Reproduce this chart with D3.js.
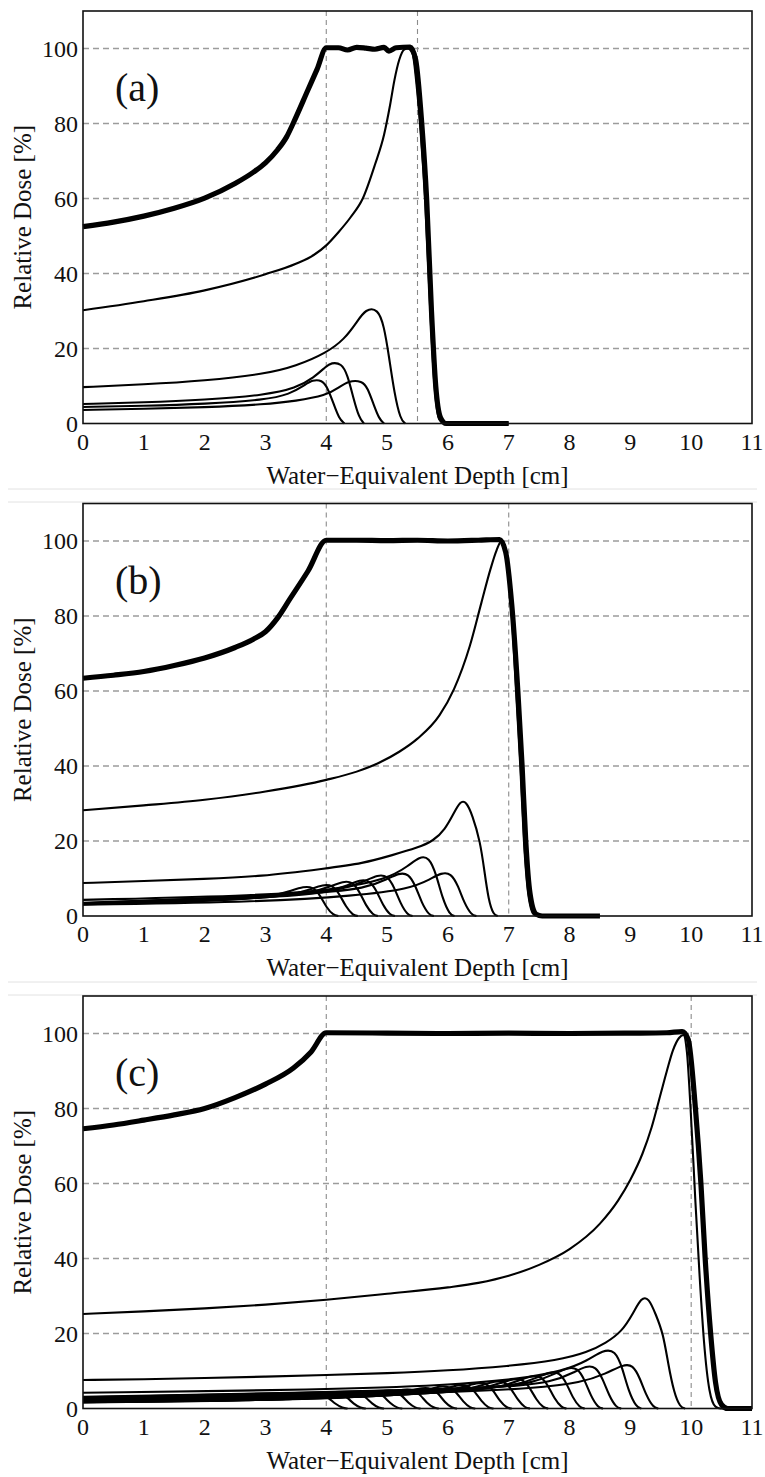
<!DOCTYPE html>
<html>
<head>
<meta charset="utf-8">
<script src="https://cdn.jsdelivr.net/npm/d3@7"></script>
<style>
  body { margin: 0; background: #fff; }
</style>
</head>
<body>
<div id="chart"></div>
<script>
var svgWidth = 765;
var svgHeight = 1477;
var serif = "'Liberation Serif', 'Times New Roman', Times, 'DejaVu Serif', serif";

var xTicks = [0, 1, 2, 3, 4, 5, 6, 7, 8, 9, 10, 11];
var yTicks = [0, 20, 40, 60, 80, 100];
var panelNames = ["(a)", "(b)", "(c)"];
var markerLines = [[4, 5.5], [4, 7], [4, 10]];

// ---- panel (a) ----
var sobpA = [[0,52.5],[0.5,53.7],[1,55.3],[1.5,57.4],[2,60.1],[2.5,64],[2.8,67],[3.0,69.5],[3.2,73],[3.35,76.5],[3.46,80.2],[3.7,89],[3.85,94.5],[4.0,100.2],[4.2,100.2],[4.35,99.6],[4.5,100.3],[4.65,100.1],[4.8,99.8],[4.95,100.3],[5.03,99.3],[5.15,100.2],[5.38,100.4],[5.47,97],[5.57,80],[5.65,60],[5.73,30],[5.8,10],[5.88,1.5],[5.97,0],[7,0]];
var pristineA = [[0,30.2],[1,32.6],[2,35.5],[3,39.8],[3.5,42.6],[3.8,45],[4,47.5],[4.2,51],[4.4,55],[4.6,60],[4.8,69],[4.95,77],[5.05,85],[5.12,91.5],[5.2,97],[5.28,99.7],[5.34,100],[5.42,98.5],[5.48,91],[5.55,78],[5.63,58],[5.71,30],[5.78,10],[5.86,1],[5.95,0],[7,0]];
var peaksA = [
  [[0,9.7],[1,10.4],[2,11.4],[3,13.2],[3.5,15.3],[4,18.8],[4.3,22.5],[4.5,27],[4.65,30.6],[4.85,30.6],[4.95,26],[5.03,18],[5.12,8],[5.22,1],[5.3,0]],
  [[0,5.2],[1,5.6],[2,6.3],[3,7.6],[3.5,9.4],[3.8,12.3],[4.0,15.3],[4.08,16.2],[4.25,16.1],[4.35,13],[4.45,6.5],[4.54,1.5],[4.62,0]],
  [[0,4.4],[1,4.7],[2,5.2],[3,6.3],[3.4,7.8],[3.65,10.3],[3.77,11.6],[3.93,11.6],[4.02,9.6],[4.12,5.3],[4.21,1.3],[4.3,0]],
  [[0,3.6],[1,3.9],[2,4.3],[3,5.1],[3.5,6],[4,7.5],[4.2,9.5],[4.36,11.4],[4.59,11.4],[4.68,9.5],[4.78,5],[4.87,1.2],[4.95,0]]
];

// ---- panel (b) ----
var sobpB = [[0,63.4],[0.5,64.2],[1,65.2],[1.5,66.8],[2,68.8],[2.5,71.6],[2.8,73.8],[3.0,75.8],[3.2,79.5],[3.4,84.5],[3.7,92],[4.0,100.2],[4.5,100.2],[5,100.1],[5.5,100.2],[6,100],[6.5,100.2],[6.85,100.4],[6.95,97],[7.05,83],[7.15,60],[7.22,40],[7.28,20],[7.35,6],[7.45,0.5],[7.55,0],[8.5,0]];
var pristineB = [[0,28.2],[1,29.5],[2,31],[3,33.2],[4,36.3],[4.5,38.5],[4.86,40.8],[5.2,43.8],[5.5,47.3],[5.86,53.5],[6.1,60.5],[6.36,72],[6.55,83.5],[6.7,92.5],[6.8,97.5],[6.88,100],[6.95,97],[7.04,83],[7.12,60],[7.19,40],[7.25,20],[7.32,6],[7.41,0.5],[7.5,0],[8.5,0]];
var peaksB = [
  [[0,3.1],[2.2,4.0],[3.1,5.1],[3.45,6.9],[3.62,7.8],[3.78,7.8],[3.9,5.5],[4.0,2.3],[4.12,0.15],[4.2,0]],
  [[0,3.2],[2.52,4.3],[3.42,5.4],[3.77,7.3],[3.94,8.3],[4.1,8.3],[4.22,5.8],[4.32,2.5],[4.44,0.15],[4.52,0]],
  [[0,3.3],[2.85,4.7],[3.75,6],[4.1,8.1],[4.27,9.2],[4.43,9.2],[4.55,6.4],[4.65,2.8],[4.77,0.2],[4.85,0]],
  [[0,3.3],[3.13,4.9],[4.03,6.2],[4.38,8.4],[4.55,9.6],[4.71,9.6],[4.83,6.7],[4.93,2.9],[5.05,0.2],[5.13,0]],
  [[0,3.5],[3.42,5.5],[4.32,7.1],[4.67,9.6],[4.84,10.9],[5.0,10.9],[5.12,7.6],[5.22,3.3],[5.34,0.2],[5.42,0]],
  [[0,3.4],[3.77,5.8],[4.67,7.4],[5.02,10],[5.19,11.4],[5.35,11.4],[5.47,8],[5.57,3.4],[5.69,0.2],[5.77,0]],
  [[0,4.3],[3,5.5],[4.11,7],[5.01,9.8],[5.36,13.5],[5.53,15.8],[5.69,15.8],[5.81,11],[5.91,4.7],[6.03,0.3],[6.11,0]],
  [[0,3.0],[3,3.8],[4.47,5.4],[5.37,7.2],[5.72,9.9],[5.89,11.5],[6.05,11.5],[6.17,8],[6.27,3.4],[6.39,0.2],[6.47,0]],
  [[0,8.8],[1,9.3],[2,9.9],[2.9,10.5],[4,12.7],[4.6,14],[5.1,16.3],[5.5,18.2],[5.76,20],[5.95,23],[6.1,27.5],[6.2,30.6],[6.3,30.6],[6.4,27],[6.53,20],[6.6,12],[6.67,4],[6.75,0.3],[6.82,0]]
];

// ---- panel (c) ----
var sobpC = [[0,74.6],[0.5,75.6],[1,76.9],[1.5,78.3],[2,80],[2.5,82.9],[3,86.5],[3.46,90.8],[3.75,95.1],[4.0,100.2],[5,100.1],[6,100],[7,100.1],[8,100],[9,100.1],[9.6,100.2],[9.85,100.5],[9.95,98.5],[10.07,80],[10.16,60],[10.23,40],[10.32,20],[10.4,7],[10.5,1],[10.6,0],[11,0]];
var pristineC = [[0,25.2],[1,25.9],[2,26.7],[3,27.7],[4,29],[5,30.6],[6,32.3],[6.5,33.5],[7,35.4],[7.5,38.3],[8,42.5],[8.5,49.3],[8.8,55.5],[9.0,61],[9.2,68],[9.35,75],[9.5,84],[9.6,90],[9.7,95.5],[9.8,98.8],[9.87,99.6],[9.93,95],[9.99,80],[10.07,55],[10.14,35],[10.21,18],[10.3,5],[10.4,0.5],[10.48,0],[11,0]];
var peaksC = [
  [[0,1.6],[2.35,2.0],[3.25,2.5],[3.6,3.4],[3.77,3.9],[3.93,3.9],[4.05,2.7],[4.15,1.2],[4.27,0.1],[4.35,0]],
  [[0,1.65],[2.65,2.1],[3.55,2.6],[3.9,3.6],[4.07,4.1],[4.23,4.1],[4.35,2.9],[4.45,1.2],[4.57,0.1],[4.65,0]],
  [[0,1.7],[2.95,2.2],[3.85,2.7],[4.2,3.8],[4.37,4.3],[4.53,4.3],[4.65,3],[4.75,1.3],[4.87,0.1],[4.95,0]],
  [[0,1.75],[3.25,2.3],[4.15,2.85],[4.5,4],[4.67,4.5],[4.83,4.5],[4.95,3.2],[5.05,1.4],[5.17,0.1],[5.25,0]],
  [[0,1.85],[3.55,2.45],[4.45,3.05],[4.8,4.2],[4.97,4.8],[5.13,4.8],[5.25,3.4],[5.35,1.4],[5.47,0.1],[5.55,0]],
  [[0,1.9],[3.85,2.55],[4.75,3.2],[5.1,4.5],[5.27,5.1],[5.43,5.1],[5.55,3.6],[5.65,1.5],[5.77,0.1],[5.85,0]],
  [[0,2.0],[4.15,2.75],[5.05,3.45],[5.4,4.8],[5.57,5.5],[5.73,5.5],[5.85,3.9],[5.95,1.6],[6.07,0.1],[6.15,0]],
  [[0,2.1],[4.45,2.9],[5.35,3.7],[5.7,5.2],[5.87,5.9],[6.03,5.9],[6.15,4.1],[6.25,1.8],[6.37,0.1],[6.45,0]],
  [[0,2.2],[4.75,3.1],[5.65,3.95],[6.0,5.5],[6.17,6.3],[6.33,6.3],[6.45,4.4],[6.55,1.9],[6.67,0.1],[6.75,0]],
  [[0,2.3],[5.05,3.3],[5.95,4.3],[6.3,6],[6.47,6.8],[6.63,6.8],[6.75,4.8],[6.85,2],[6.97,0.1],[7.05,0]],
  [[0,2.4],[5.35,3.5],[6.25,4.6],[6.6,6.4],[6.77,7.3],[6.93,7.3],[7.05,5.1],[7.15,2.2],[7.27,0.15],[7.35,0]],
  [[0,2.5],[5.65,3.8],[6.55,5],[6.9,7],[7.07,7.9],[7.23,7.9],[7.35,5.5],[7.45,2.4],[7.57,0.15],[7.65,0]],
  [[0,2.65],[5.95,4.1],[6.85,5.5],[7.2,7.7],[7.37,8.7],[7.53,8.7],[7.65,6.1],[7.75,2.6],[7.87,0.2],[7.95,0]],
  [[0,2.8],[6.25,4.5],[7.15,6.1],[7.5,8.5],[7.67,9.7],[7.83,9.7],[7.95,6.8],[8.05,2.9],[8.17,0.2],[8.25,0]],
  [[0,3.0],[6.55,5],[7.45,6.9],[7.8,9.6],[7.97,10.9],[8.13,10.9],[8.25,7.6],[8.35,3.3],[8.47,0.2],[8.55,0]],
  [[0,3.1],[6.85,5.2],[7.75,7.1],[8.1,9.9],[8.27,11.3],[8.43,11.3],[8.55,7.8],[8.65,3.4],[8.77,0.2],[8.85,0]],
  [[0,4.2],[4,5],[6,6.2],[7.15,7.8],[7.9,10],[8.3,12.8],[8.55,15.6],[8.75,15.6],[8.87,10.8],[8.97,4.6],[9.1,0.3],[9.18,0]],
  [[0,2.9],[4,3.5],[6,4.3],[7.45,5.4],[8.2,6.9],[8.6,9.3],[8.88,11.7],[9.04,11.7],[9.16,8],[9.26,3.5],[9.38,0.2],[9.46,0]],
  [[0,7.6],[1,7.8],[2,8.1],[3,8.5],[4,8.9],[5,9.4],[6,10.1],[7,11.3],[7.8,12.8],[8.3,15],[8.6,17.5],[8.86,20.5],[9.05,25.5],[9.18,29.6],[9.3,29.6],[9.42,25],[9.54,20],[9.62,12],[9.72,4],[9.82,0.3],[9.9,0]]
];

var panels = [
  { top: 11, sobp: sobpA, pristine: pristineA, peaks: peaksA },
  { top: 503.5, sobp: sobpB, pristine: pristineB, peaks: peaksB },
  { top: 996, sobp: sobpC, pristine: pristineC, peaks: peaksC }
];

var margin = { left: 83, right: 13 };
var plotHeight = 412.5;

var svg = d3.select("#chart")
  .append("svg")
  .attr("width", svgWidth)
  .attr("height", svgHeight)
  .attr("font-family", serif);

// light separators between the stacked figures
[489, 502, 982, 995].forEach(function(y) {
  svg.append("line")
    .attr("x1", 8).attr("x2", 757)
    .attr("y1", y).attr("y2", y)
    .attr("stroke", "#e2e2e2")
    .attr("stroke-width", 1);
});

var xScale = d3.scaleLinear()
  .domain([0, 11])
  .range([margin.left, svgWidth - margin.right]);

panels.forEach(function(p, i) {
  var yScale = d3.scaleLinear()
    .domain([0, 110])
    .range([p.top + plotHeight, p.top]);

  // smooth spline for the smeared small peaks, monotone for the big curves
  var softLine = d3.line()
    .x(d => xScale(d[0])).y(d => yScale(d[1]))
    .curve(d3.curveBasis);
  var line = d3.line()
    .x(d => xScale(d[0])).y(d => yScale(d[1]))
    .curve(d3.curveMonotoneX);

  var g = svg.append("g");

  // horizontal grid
  g.selectAll(".hgrid")
    .data(yTicks.filter(d => d > 0))
    .enter()
    .append("line")
    .attr("x1", xScale(0)).attr("x2", xScale(11))
    .attr("y1", d => yScale(d)).attr("y2", d => yScale(d))
    .attr("stroke", "#9c9c9c")
    .attr("stroke-width", 1.3)
    .attr("stroke-dasharray", "6,4");

  // vertical markers
  g.selectAll(".vgrid")
    .data(markerLines[i])
    .enter()
    .append("line")
    .attr("x1", d => xScale(d)).attr("x2", d => xScale(d))
    .attr("y1", yScale(110)).attr("y2", yScale(0))
    .attr("stroke", "#8c8c8c")
    .attr("stroke-width", 1.1)
    .attr("stroke-dasharray", "5,4");

  // individual pristine peaks
  g.selectAll(".peak")
    .data(p.peaks)
    .enter()
    .append("path")
    .attr("d", d => softLine(d))
    .attr("fill", "none")
    .attr("stroke", "#000")
    .attr("stroke-width", 2.1);

  g.append("path")
    .attr("d", line(p.pristine))
    .attr("fill", "none")
    .attr("stroke", "#000")
    .attr("stroke-width", 2.1);

  // spread-out peak
  g.append("path")
    .attr("d", line(p.sobp))
    .attr("fill", "none")
    .attr("stroke", "#000")
    .attr("stroke-width", 5.2)
    .attr("stroke-linejoin", "round");

  // frame
  g.append("rect")
    .attr("x", xScale(0)).attr("y", yScale(110))
    .attr("width", xScale(11) - xScale(0))
    .attr("height", yScale(0) - yScale(110))
    .attr("fill", "none")
    .attr("stroke", "#111")
    .attr("stroke-width", 1.6);

  // tick labels
  g.selectAll(".xt")
    .data(xTicks)
    .enter()
    .append("text")
    .attr("x", d => xScale(d))
    .attr("y", yScale(0) + 26)
    .attr("text-anchor", "middle")
    .attr("font-size", 24)
    .attr("fill", "#111")
    .text(d => d);

  g.selectAll(".yt")
    .data(yTicks)
    .enter()
    .append("text")
    .attr("x", xScale(0) - 5)
    .attr("y", d => yScale(d) + 8)
    .attr("text-anchor", "end")
    .attr("font-size", 24)
    .attr("fill", "#111")
    .text(d => d);

  // axis titles
  g.append("text")
    .attr("x", (xScale(0) + xScale(11)) / 2)
    .attr("y", yScale(0) + 60)
    .attr("text-anchor", "middle")
    .attr("font-size", 25)
    .attr("fill", "#111")
    .text("Water\u2212Equivalent Depth [cm]");

  g.append("text")
    .attr("transform", `translate(31, ${p.top + plotHeight / 2}) rotate(-90)`)
    .attr("text-anchor", "middle")
    .attr("font-size", 25)
    .attr("fill", "#111")
    .text("Relative Dose [%]");

  // panel letter
  g.append("text")
    .attr("x", 115)
    .attr("y", yScale(86))
    .attr("font-size", 40)
    .attr("fill", "#111")
    .text(panelNames[i]);
});
</script>
</body>
</html>
